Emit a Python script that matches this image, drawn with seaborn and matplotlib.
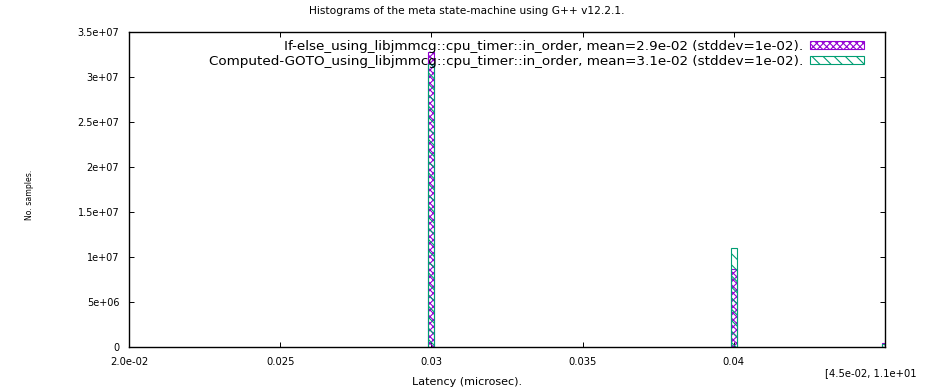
import pandas as pd
import matplotlib
matplotlib.use('Agg')
import matplotlib.pyplot as plt
import matplotlib.transforms as mtransforms
from matplotlib.patches import Patch
import seaborn as sns

# ── data ──
latency = [0.03, 0.04, 0.045]                      # bin centres (microsec)
ifelse_counts = [3.28e7, 8.7e6, 4.0e5]
goto_counts = [3.15e7, 1.1e7, 3.0e5]
series_labels = ['If-else_using_libjmmcg::cpu_timer::in_order, mean=2.9e-02 (stddev=1e-02).',
                 'Computed-GOTO_using_libjmmcg::cpu_timer::in_order, mean=3.1e-02 (stddev=1e-02).']
xticks = [0.02, 0.025, 0.03, 0.035, 0.04, 0.045]
xticklabels = ['2.0e-02', '0.025', '0.03', '0.035', '0.04', '[4.5e-02, 1.1e+01']
yticks = [0, 5e6, 1e7, 1.5e7, 2e7, 2.5e7, 3e7, 3.5e7]
yticklabels = ['0', '5e+06', '1e+07', '1.5e+07', '2e+07', '2.5e+07', '3e+07', '3.5e+07']

PURPLE = '#9400D3'
GREEN = '#009E73'
BIN_W = 0.0002

sns.set_theme(style='ticks')
plt.rcParams['font.family'] = ['DejaVu Sans']
plt.rcParams['text.color'] = 'black'
plt.rcParams['hatch.linewidth'] = 0.8

df = pd.DataFrame({'latency': latency * 2,
                   'count': ifelse_counts + goto_counts,
                   'series': [series_labels[0]] * 3 + [series_labels[1]] * 3})

fig = plt.figure(figsize=(9.34, 3.89), dpi=100)
ax = fig.add_axes([129 / 934, 1 - 347 / 389, (885 - 129) / 934, (347 - 32) / 389])

styles = [(PURPLE, 'xxxxx'), (GREEN, '\\\\\\')]
for lab, (col, hatch) in zip(series_labels, styles):
    sub = df[df['series'] == lab]
    n0 = len(ax.patches)
    sns.histplot(data=sub, x='latency', weights='count', binwidth=BIN_W,
                 binrange=(0.0299, 0.0451), ax=ax, stat='count', element='bars')
    for p in ax.patches[n0:]:
        if p.get_height() <= 0:
            p.set_visible(False)
            continue
        p.set_facecolor('none')
        p.set_edgecolor(col)
        p.set_hatch(hatch)
        p.set_linewidth(0.8)

ax.set_xlim(0.02, 0.045)
ax.set_ylim(0, 3.5e7)
ax.set_xticks(xticks)
ax.set_xticklabels(xticklabels, fontsize=7.2)
ax.set_yticks(yticks)
ax.set_yticklabels(yticklabels, fontsize=7)
ax.tick_params(direction='in', length=3.6, width=0.7, top=True, right=True, colors='black')
ax.tick_params(axis='x', pad=7)
ax.tick_params(axis='y', pad=7)
for s in ax.spines.values():
    s.set_visible(True)
    s.set_color('black')
    s.set_linewidth(1.0)
ax.set_xlabel('')
ax.set_ylabel('')

# the overflow-bin label sits lower, as in gnuplot
last = ax.get_xticklabels()[-1]
last.set_transform(last.get_transform()
                   + mtransforms.ScaledTranslation(-14 / 100, -11 / 100, fig.dpi_scale_trans))

fig.suptitle('Histograms of the meta state-machine using G++ v12.2.1.', fontsize=7.7, y=0.985)
fig.supxlabel('Latency (microsec).', fontsize=8, y=0.005)
fig.supylabel('No. samples.', fontsize=5.6, x=0.027)

handles = [Patch(facecolor='none', edgecolor=c, hatch=h, linewidth=0.8) for c, h in styles]
leg = ax.legend(handles, series_labels, loc='upper right', frameon=False, markerfirst=False,
                fontsize=9.7, handlelength=4.0, handleheight=0.52, labelspacing=0.12,
                handletextpad=0.52, borderpad=0, borderaxespad=0,
                bbox_to_anchor=((864 - 129) / 756, (347 - 40) / 315))
for col in leg._legend_handle_box.get_children():
    col.align = 'right'

fig.savefig('out.png', dpi=100)
